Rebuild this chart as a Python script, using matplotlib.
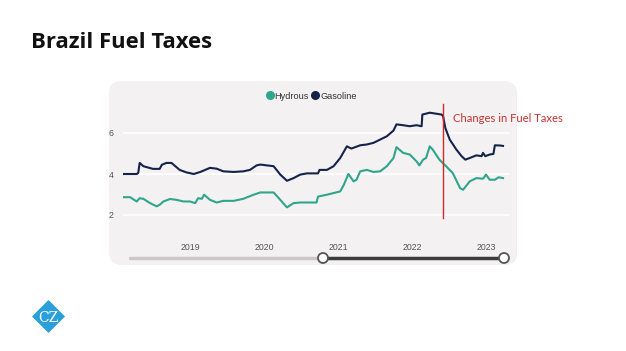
import matplotlib.pyplot as plt
from matplotlib.patches import FancyBboxPatch, Polygon, Circle
from matplotlib.lines import Line2D

# decimal year / value pairs
gas_x = [2018.10, 2018.28, 2018.30, 2018.32, 2018.37, 2018.50, 2018.59, 2018.62, 2018.68, 2018.75,
         2018.86, 2018.95, 2019.05, 2019.14, 2019.27, 2019.36, 2019.45, 2019.59, 2019.72, 2019.81,
         2019.90, 2019.95, 2020.04, 2020.13, 2020.22, 2020.31, 2020.40, 2020.49, 2020.58, 2020.67,
         2020.73, 2020.75, 2020.85, 2020.94, 2021.03, 2021.12, 2021.18, 2021.30, 2021.39, 2021.48,
         2021.57, 2021.66, 2021.75, 2021.79, 2021.88, 2021.97, 2022.06, 2022.13, 2022.14, 2022.24,
         2022.33, 2022.40, 2022.42, 2022.45, 2022.51, 2022.60, 2022.67, 2022.72, 2022.78, 2022.87,
         2022.94, 2022.96, 2022.99, 2023.05, 2023.10, 2023.12, 2023.19, 2023.23]
gas_y = [4.00, 4.00, 4.05, 4.54, 4.38, 4.25, 4.25, 4.45, 4.54, 4.54,
         4.20, 4.08, 4.00, 4.10, 4.30, 4.26, 4.13, 4.10, 4.13, 4.20,
         4.42, 4.46, 4.42, 4.38, 3.97, 3.67, 3.80, 3.97, 4.03, 4.03,
         4.03, 4.20, 4.20, 4.38, 4.78, 5.35, 5.24, 5.40, 5.44, 5.52,
         5.68, 5.84, 6.12, 6.42, 6.38, 6.33, 6.38, 6.33, 6.90, 6.99,
         6.94, 6.90, 6.82, 6.25, 5.68, 5.19, 4.87, 4.70, 4.78, 4.91,
         4.87, 5.03, 4.87, 4.95, 4.98, 5.40, 5.39, 5.37]

hyd_x = [2018.10, 2018.19, 2018.28, 2018.32, 2018.37, 2018.46, 2018.55, 2018.59, 2018.64, 2018.73,
         2018.82, 2018.91, 2019.00, 2019.07, 2019.11, 2019.16, 2019.19, 2019.27, 2019.36, 2019.45,
         2019.59, 2019.72, 2019.86, 2019.95, 2020.13, 2020.22, 2020.31, 2020.40, 2020.49, 2020.71,
         2020.73, 2020.85, 2021.03, 2021.08, 2021.14, 2021.21, 2021.25, 2021.30, 2021.39, 2021.48,
         2021.57, 2021.66, 2021.75, 2021.79, 2021.88, 2021.97, 2022.06, 2022.10, 2022.15, 2022.19,
         2022.24, 2022.28, 2022.37, 2022.46, 2022.55, 2022.65, 2022.69, 2022.78, 2022.87, 2022.96,
         2023.00, 2023.05, 2023.12, 2023.17, 2023.23]
hyd_y = [2.87, 2.87, 2.66, 2.82, 2.79, 2.58, 2.42, 2.50, 2.66, 2.78,
         2.74, 2.66, 2.66, 2.58, 2.82, 2.79, 2.99, 2.74, 2.61, 2.69,
         2.69, 2.79, 2.99, 3.10, 3.10, 2.74, 2.37, 2.58, 2.61, 2.61,
         2.90, 2.99, 3.15, 3.48, 4.00, 3.64, 3.72, 4.13, 4.20, 4.10,
         4.13, 4.38, 4.78, 5.31, 5.03, 4.95, 4.62, 4.42, 4.70, 4.78,
         5.35, 5.19, 4.70, 4.38, 4.05, 3.31, 3.23, 3.64, 3.80, 3.77,
         3.97, 3.72, 3.72, 3.84, 3.80]

years = [2019, 2020, 2021, 2022, 2023]
yticks = [2, 4, 6]
tax_change = 2022.42

W, H = 626, 351
fig = plt.figure(figsize=(W / 100, H / 100), dpi=100)

# background layer in pixel coordinates
bg = fig.add_axes([0, 0, 1, 1])
bg.set_xlim(0, W)
bg.set_ylim(H, 0)
bg.axis('off')

bg.add_patch(FancyBboxPatch((112, 84), 403, 179, boxstyle='round,pad=2,rounding_size=12',
                            facecolor='#e8e6e6', edgecolor='none', alpha=0.6))
bg.add_patch(FancyBboxPatch((111, 83), 403, 179, boxstyle='round,pad=2,rounding_size=12',
                            facecolor='#f3f1f1', edgecolor='none'))

bg.text(31, 48, 'Brazil Fuel Taxes', fontsize=15.9, fontweight='bold', family='Open Sans',
        color='#111111', va='baseline', ha='left')

# slider under the chart
bg.plot([130, 323], [258, 258], color='#c9c9c9', lw=2.5, solid_capstyle='round')
bg.plot([323, 504], [258, 258], color='#3c3c3c', lw=2.5)
for cx in (323, 504):
    bg.add_patch(Circle((cx, 258), 5, facecolor='white', edgecolor='#555555', lw=1.3, zorder=3))

# logo
bg.add_patch(Polygon([(48.5, 300), (65, 316.5), (48.5, 333), (32, 316.5)], closed=True,
                     facecolor='#2a9fda', edgecolor='none'))
bg.text(48.5, 317.5, 'CZ', fontsize=10, family='DejaVu Serif', color='white',
        ha='center', va='center')

# chart
left, right, top, bottom = 123, 510, 105, 230
ax = fig.add_axes([left / W, 1 - bottom / H, (right - left) / W, (bottom - top) / H])
ax.patch.set_alpha(0)
ax.set_xlim(2019 + (left - 190) / 74, 2019 + (right - 190) / 74)
ax.set_ylim(4 - (bottom - 174) / 20.5, 4 + (174 - top) / 20.5)

ax.set_yticks(yticks)
ax.set_xticks(years)
ax.set_xticklabels([str(y) for y in years])
ax.grid(axis='y', color='white', lw=1.2)
ax.set_axisbelow(True)
for s in ax.spines.values():
    s.set_visible(False)
ax.tick_params(length=0, labelsize=6.3, labelcolor='#555555')
ax.tick_params(axis='x', pad=9)
ax.tick_params(axis='y', pad=7)
for lab in ax.get_xticklabels() + ax.get_yticklabels():
    lab.set_family('Liberation Sans')

ax.plot(hyd_x, hyd_y, color='#2fa58c', lw=1.5)
ax.plot(gas_x, gas_y, color='#15234b', lw=1.5)

ax.plot([tax_change, tax_change], [1.85, 7.4], color='#d42a2a', lw=1.0, clip_on=False)
bg.text(453, 118, 'Changes in Fuel Taxes', fontsize=8.1, family='Lato', color='#c83232',
        ha='left', va='center')

handles = [Line2D([], [], marker='o', ls='none', color='#2fa58c', markersize=5.5),
           Line2D([], [], marker='o', ls='none', color='#15234b', markersize=5.5)]
fig.legend(handles, ['Hydrous', 'Gasoline'], loc='center', bbox_to_anchor=(311 / W, 1 - 96 / H),
           ncol=2, frameon=False, handletextpad=0.05, columnspacing=0.3, handlelength=0.9,
           prop={'family': 'Liberation Sans', 'size': 6.6}, labelcolor='#333333')

fig.savefig('out.png', dpi=100)
